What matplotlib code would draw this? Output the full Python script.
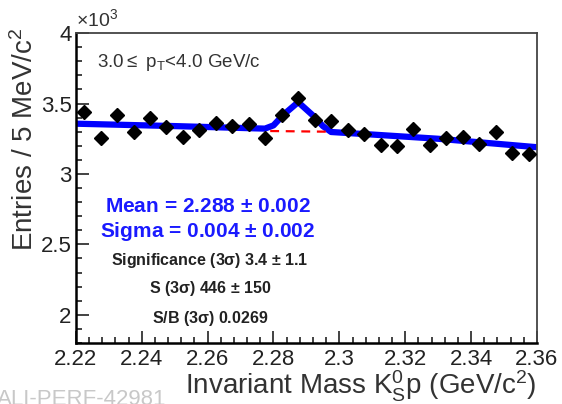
import matplotlib.pyplot as plt
from matplotlib.ticker import MultipleLocator, FuncFormatter
import numpy as np

plt.rcParams['font.family'] = ['Liberation Sans', 'DejaVu Sans']
plt.rcParams['mathtext.default'] = 'regular'

# Entries per 5 MeV bin
mass = np.arange(2.2225, 2.36, 0.005)
counts = [3440, 3255, 3416, 3300, 3400, 3330, 3260, 3310, 3360, 3340,
          3357, 3255, 3416, 3536, 3380, 3373, 3310, 3286, 3207, 3200,
          3316, 3207, 3255, 3260, 3214, 3300, 3150, 3143]

# fit curve (signal + background) as drawn
fit_x = [2.220, 2.250, 2.2774, 2.2800, 2.2830, 2.2875, 2.2920, 2.2950, 2.2975,
         2.310, 2.330, 2.360]
fit_y = [3357, 3340, 3322, 3345, 3420, 3510, 3415, 3340, 3298,
         3280, 3250, 3190]

# background under the peak
bkg_x = [2.2790, 2.2970]
bkg_y = [3305, 3300]

stats_blue = ["Mean = 2.288 $\\pm$ 0.002", "Sigma = 0.004 $\\pm$ 0.002"]
stats_black = ["Significance (3$\\sigma$) 3.4 $\\pm$ 1.1",
               "S (3$\\sigma$) 446 $\\pm$ 150",
               "S/B (3$\\sigma$) 0.0269"]

fig = plt.figure(figsize=(5.62, 4.04), dpi=100)
ax = fig.add_axes([0.135, 0.151, 0.8205, 0.767])

ax.plot(fit_x, fit_y, color='#0000ff', lw=4.5, solid_capstyle='butt',
        solid_joinstyle='round', zorder=2)
ax.plot(bkg_x, bkg_y, color='#ff0000', lw=1.6, dashes=(4, 3), zorder=3)
ax.plot(mass, counts, 'D', color='black', ms=7, zorder=4)

ax.set_xlim(2.22, 2.36)
ax.set_ylim(1800, 4000)
ax.xaxis.set_major_locator(MultipleLocator(0.02))
ax.xaxis.set_minor_locator(MultipleLocator(0.004))
ax.yaxis.set_major_locator(MultipleLocator(500))
ax.yaxis.set_minor_locator(MultipleLocator(100))
ax.xaxis.set_major_formatter(FuncFormatter(lambda v, p: f"{v:g}"))
ax.yaxis.set_major_formatter(FuncFormatter(lambda v, p: f"{v / 1000:g}"))
ax.tick_params(which='both', direction='in', top=False, right=False,
               labelsize=16, colors='#222222', width=1.2)
ax.tick_params(axis='x', which='major', length=9, pad=4)
ax.tick_params(axis='y', which='major', length=9, pad=3)
ax.tick_params(which='minor', length=4.5)
for side in ['left', 'bottom']:
    ax.spines[side].set_linewidth(1.8)
for side in ['top', 'right']:
    ax.spines[side].set_linewidth(1.3)
    ax.spines[side].set_color('#444444')

fig.text(0.135, 0.935, "$\\times$10$^3$", fontsize=14, color='#333333',
         ha='left', va='baseline')

fig.text(0.0445, 0.931, "Entries / 5 MeV/c$^2$", rotation=90, fontsize=20,
         color='#333333', ha='center', va='top')
fig.text(0.9555, 0.024, "Invariant Mass K$^0_S$p (GeV/c$^2$)", fontsize=20,
         color='#333333', ha='right', va='baseline')

ax.text(0.045, 0.94, "3.0$\\leq$ p$_T$<4.0 GeV/c", transform=ax.transAxes,
        fontsize=13.5, color='#333333', ha='left', va='top')

blue_y = [207, 232]
for s, yp in zip(stats_blue, blue_y):
    fig.text(208 / 562, 1 - yp / 404, s, fontsize=15, fontweight='bold',
             color='#1a1aff', ha='center', va='center')
black_y = [261, 289, 318]
for s, yp in zip(stats_black, black_y):
    fig.text(210 / 562, 1 - yp / 404, s, fontsize=11.5, fontweight='bold',
             color='#222222', ha='center', va='center')

fig.text(-0.005, 0.012, "ALI-PERF-42981", fontsize=16, color='#c8c8c8',
         ha='left', va='center')

fig.savefig("out.png", dpi=100)
